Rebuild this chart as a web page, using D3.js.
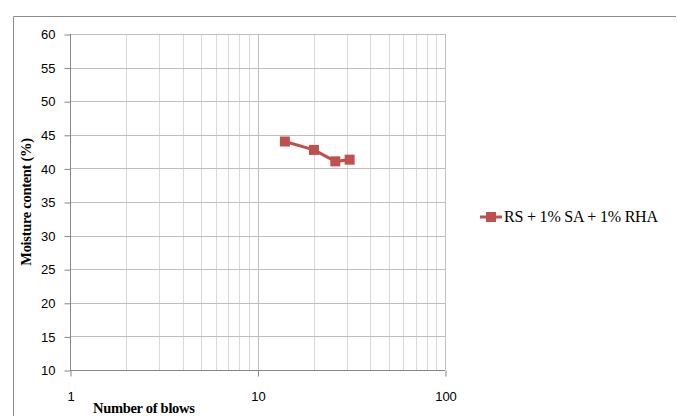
<!DOCTYPE html>
<html><head><meta charset="utf-8">
<script src="https://cdn.jsdelivr.net/npm/d3@7"></script>
<style>body{margin:0;background:#fff}</style>
</head><body>
<svg id="c" width="678" height="416"></svg>
<script>
const blows = [14, 20, 26, 31];
const moisture = [44.0, 42.75, 41.05, 41.3];
const seriesName = "RS + 1% SA + 1% RHA";
const yTicks = [10, 15, 20, 25, 30, 35, 40, 45, 50, 55, 60];
const xMajor = [1, 10, 100];
const xMinor = [2,3,4,5,6,7,8,9,20,30,40,50,60,70,80,90];

const svg = d3.select("#c");
const x = d3.scaleLog().domain([1, 100]).range([70, 445]);
const y = d3.scaleLinear().domain([10, 60]).range([370, 34]);

// outer border
svg.append("path").attr("d","M13.5,416 V16.5 H676").attr("fill","none").attr("stroke","#8c8c8c").attr("stroke-width",1);

// gridlines
svg.append("g").selectAll("line").data(xMinor).join("line")
  .attr("x1",d=>Math.round(x(d))+0.5).attr("x2",d=>Math.round(x(d))+0.5)
  .attr("y1",y(60)).attr("y2",y(10)).attr("stroke","#d9d9d9");
svg.append("g").selectAll("line").data(xMajor.slice(1)).join("line")
  .attr("x1",d=>Math.round(x(d))+0.5).attr("x2",d=>Math.round(x(d))+0.5)
  .attr("y1",y(60)).attr("y2",y(10)).attr("stroke","#bfbfbf");
svg.append("g").selectAll("line").data(yTicks.slice(1)).join("line")
  .attr("x1",x(1)).attr("x2",x(100))
  .attr("y1",d=>Math.round(y(d))+0.5).attr("y2",d=>Math.round(y(d))+0.5)
  .attr("stroke","#bfbfbf");

// axes
const yAxis = d3.axisLeft(y).tickValues(yTicks).tickSize(6).tickPadding(9);
const gy = svg.append("g").attr("transform",`translate(${x(1)+0.5},0.5)`).call(yAxis);
const xAxis = d3.axisBottom(x).tickValues(xMajor).tickFormat(d3.format("d")).tickSize(6).tickPadding(15);
const gx = svg.append("g").attr("transform",`translate(0.5,${y(10)+0.5})`).call(xAxis);
[gx,gy].forEach(g=>{
  g.select(".domain").remove();
  g.selectAll("line").attr("stroke","#868686");
  g.selectAll("text").attr("font-family","Liberation Sans, Arial, sans-serif").attr("font-size",13).attr("fill","#000");
});
svg.append("line").attr("x1",x(1)+0.5).attr("x2",x(1)+0.5).attr("y1",y(60)).attr("y2",y(10)).attr("stroke","#868686");
svg.append("line").attr("x1",x(1)).attr("x2",x(100)).attr("y1",y(10)+0.5).attr("y2",y(10)+0.5).attr("stroke","#868686");

// series
const color = "#c0504d";
const pts = blows.map((b,i)=>[x(b), y(moisture[i])]);
svg.append("path").attr("d", d3.line()(pts)).attr("fill","none").attr("stroke",color).attr("stroke-width",3);
svg.append("g").selectAll("rect").data(pts).join("rect")
  .attr("x",d=>d[0]-5).attr("y",d=>d[1]-5).attr("width",10).attr("height",10).attr("fill",color);

// axis titles
svg.append("text").attr("transform","translate(31,202) rotate(-90)").attr("text-anchor","middle")
  .attr("font-family","Liberation Serif, Times New Roman, serif").attr("font-weight","bold").attr("font-size",14.5)
  .attr("letter-spacing",-0.3)
  .text("Moisture content (%)");
svg.append("text").attr("x",93).attr("y",413)
  .attr("font-family","Liberation Serif, Times New Roman, serif").attr("font-weight","bold").attr("font-size",14.5)
  .attr("letter-spacing",-0.3)
  .text("Number of blows");

// legend
svg.append("line").attr("x1",480).attr("x2",502).attr("y1",217).attr("y2",217).attr("stroke",color).attr("stroke-width",3);
svg.append("rect").attr("x",486).attr("y",212).attr("width",10).attr("height",10).attr("fill",color);
svg.append("text").attr("x",504).attr("y",222)
  .attr("font-family","Liberation Serif, Times New Roman, serif").attr("font-size",16)
  .attr("letter-spacing",-0.2)
  .text(seriesName);
</script>
</body></html>
